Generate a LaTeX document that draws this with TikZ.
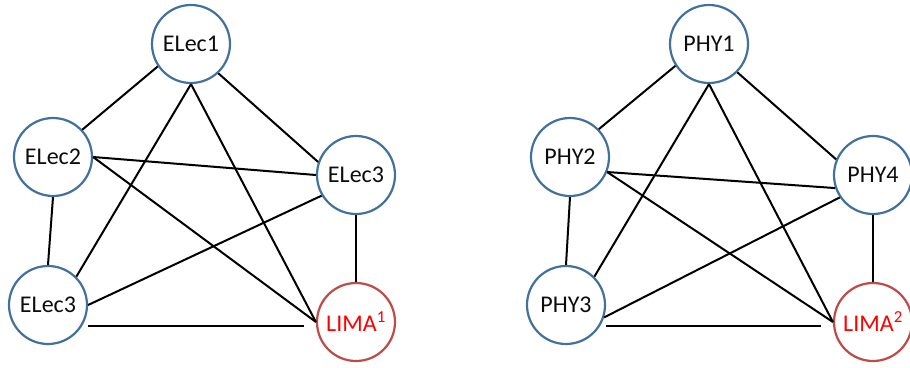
\documentclass[tikz,border=0pt]{standalone}
\usepackage{fontspec}
\setmainfont{Carlito}
\definecolor{nodeblue}{HTML}{41719C}
\definecolor{nodered}{HTML}{BE4B48}
\definecolor{textdark}{HTML}{0D0D0D}
\tikzset{
  vert/.style={circle, draw=nodeblue, line width=2.2pt, fill=white, minimum size=78pt, inner sep=0pt,
    font=\fontsize{24}{28}\selectfont, text=textdark},
  limavert/.style={vert, draw=nodered, text=red},
  link/.style={line width=2pt, black},
}
\begin{document}
\begin{tikzpicture}[x=1pt,y=-1pt]
\useasboundingbox (0,0) rectangle (910,367);
% left graph
\node[vert] (e1) at (191,44) {ELec1};
\node[vert] (e2) at (53,157) {ELec2};
\node[vert] (e3r) at (356,175) {ELec3};
\node[vert] (e3b) at (48,305) {ELec3};
\node[limavert] (l1) at (356,322) {LIMA\textsuperscript{1}};
\draw[link] (e1.214) -- (e2.43);
\draw[link] (e1.313) -- (e3r.161);
\draw[link] (e1.south) -- (e3b.45);
\draw[link] (e1.south) -- (l1.west);
\draw[link] (e2.east) -- (e3r.west);
\draw[link] (e2.east) -- (l1.west);
\draw[link] (e2.south) -- (e3b.north);
\draw[link] (e3r.211) -- (e3b.east);
\draw[link] (e3r.south) -- (l1.north);
\draw[link] ([yshift=-21pt]e3b.east) -- ([xshift=-12pt,yshift=-4pt]l1.west);
% right graph
\node[vert] (p1) at (709,44) {PHY1};
\node[vert] (p2) at (570,157) {PHY2};
\node[vert] (p4) at (873,175) {PHY4};
\node[vert] (p3) at (566,305) {PHY3};
\node[limavert] (l2) at (873,322) {LIMA\textsuperscript{2}};
\draw[link] (p1.213) -- (p2.44);
\draw[link] (p1.315) -- (p4.157);
\draw[link] (p1.south) -- (p3.45);
\draw[link] (p1.south) -- (l2.west);
\draw[link] (p2.338) -- (p4.199);
\draw[link] (p2.338) -- (l2.west);
\draw[link] (p2.south) -- (p3.north);
\draw[link] (p4.214) -- (p3.342);
\draw[link] (p4.south) -- (l2.north);
\draw[link] ([yshift=-21pt]p3.east) -- ([xshift=-12pt,yshift=-4pt]l2.west);
\end{tikzpicture}
\end{document}
